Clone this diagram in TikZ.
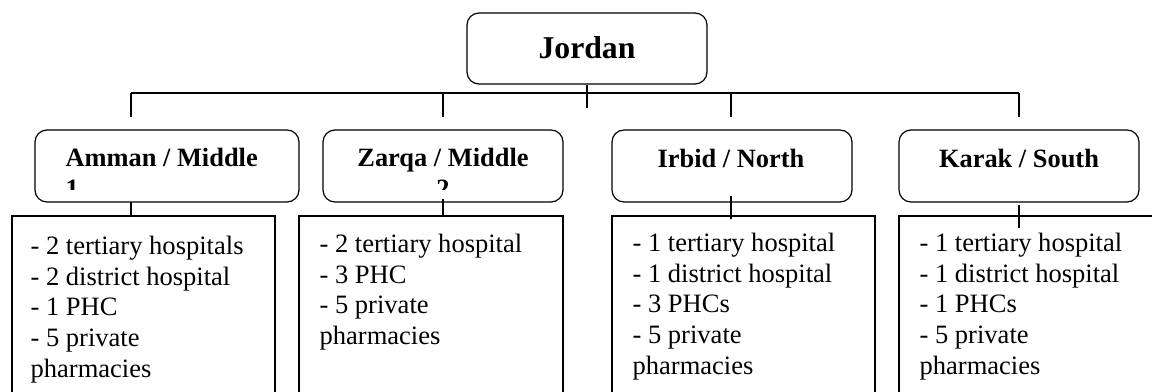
\documentclass[tikz,border=0pt]{standalone}
\usepackage{fontspec}
\setmainfont{Liberation Serif}
\begin{document}
\begin{tikzpicture}[x=0.75pt,y=-0.75pt,line width=0.9pt,
  topbox/.style={draw,rounded corners=9pt,minimum width=180pt,minimum height=53.25pt,inner sep=0pt},
  regbox/.style={draw,rounded corners=9pt,minimum height=54pt,inner sep=0pt},
  listbox/.style={draw,rectangle,minimum height=138pt,inner sep=0pt},
  ttl/.style={inner sep=0pt,font=\bfseries\fontsize{19.8}{22.9}\selectfont},
  lst/.style={inner sep=0pt,align=left,anchor=base west,font=\fontsize{19.9}{22.9}\selectfont}]
\useasboundingbox (0,0) rectangle (1152,392);
\clip (0,0) rectangle (1152,392);
% top
\node[topbox] (j) at (587,48.5) {};
\node[inner sep=0pt,anchor=base,font=\bfseries\fontsize{23.8}{27}\selectfont] (jt) at (587,59) {Jordan};
% regions
\node[regbox,minimum width=198pt] (r1) at (167,166) {};
\node[regbox,minimum width=180pt] (r2) at (443,166) {};
\node[regbox,minimum width=180pt] (r3) at (732,166) {};
\node[regbox,minimum width=180pt] (r4) at (1019,166) {};
\begin{scope}
\clip (0,0) rectangle (1152,189);
\node[ttl,align=left,anchor=base west] (t1) at (65,197.5) {Amman / Middle\\1};
\node[ttl,align=center,anchor=base] (t2) at (443,197.5) {Zarqa / Middle\\2};
\end{scope}
\node[ttl,anchor=base] (t3) at (731,167) {Irbid / North};
\node[ttl,anchor=base] (t4) at (1019,167) {Karak / South};
% lists
\node[listbox,minimum width=197.25pt] (l1) at (143.5,308) {};
\node[listbox,minimum width=198pt] (l2) at (431,308) {};
\node[listbox,minimum width=197.25pt] (l3) at (743.5,308) {};
\node[listbox,minimum width=198pt] (l4) at (1031,308) {};
\node[lst] (x1) at (30,377) {- 2 tertiary hospitals\\- 2 district hospital\\- 1 PHC\\- 5 private\\pharmacies};
\node[lst] (x2) at (319,344.5) {- 2 tertiary hospital\\- 3 PHC\\- 5 private\\pharmacies};
\node[lst] (x3) at (632,374) {- 1 tertiary hospital\\- 1 district hospital\\- 3 PHCs\\- 5 private\\pharmacies};
\node[lst] (x4) at (919,374) {- 1 tertiary hospital\\- 1 district hospital\\- 1 PHCs\\- 5 private\\pharmacies};
% connectors
\coordinate (b1) at (131,93);
\coordinate (b2) at (443,93);
\coordinate (b3) at (731,93);
\coordinate (b4) at (1019,93);
\coordinate (jd) at (587,108);
\coordinate (d1) at (131,117);
\coordinate (d2) at (443,117);
\coordinate (d3) at (731,117);
\coordinate (d4) at (1019,117);
\draw (j.south) -- (jd);
\draw (b1) -- (b4);
\draw (b1) -- (d1);
\draw (b2) -- (d2);
\draw (b3) -- (d3);
\draw (b4) -- (d4);
\coordinate (u1) at (131,202);
\coordinate (u2) at (443,199);
\coordinate (u3) at (731,196);
\coordinate (u4) at (1019,205);
\coordinate (v1) at (131,216);
\coordinate (v2) at (443,216);
\coordinate (v3) at (731,219);
\coordinate (v4) at (1019,228);
\draw (u1) -- (v1);
\draw (u2) -- (v2);
\draw (u3) -- (v3);
\draw (u4) -- (v4);
\end{tikzpicture}
\end{document}
